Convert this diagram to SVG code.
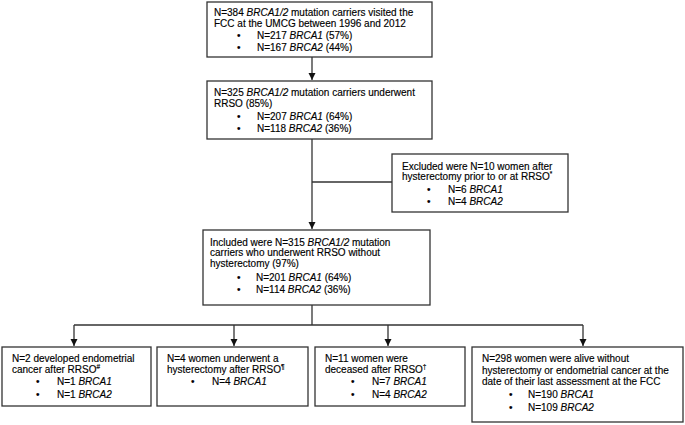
<svg xmlns="http://www.w3.org/2000/svg" width="685" height="425" viewBox="0 0 685 425">
<defs>
<style>
.box{fill:#fff;stroke:#333;stroke-width:1.3}
.t{font-family:"Liberation Sans",Arial,sans-serif;font-size:10px;fill:#000;stroke:#000;stroke-width:0.15}
.i{font-style:italic}
.sup{font-size:6.5px}
.ln{fill:none;stroke:#333;stroke-width:1.3}
</style>
<marker id="ah" markerUnits="userSpaceOnUse" markerWidth="8" markerHeight="9" refX="7" refY="3.5" orient="auto">
<path d="M0,0 L7,3.5 L0,7 Z" fill="#111"/>
</marker>
</defs>
<rect width="685" height="425" fill="#fff"/>

<g id="connectors">
<line class="ln" x1="312" y1="57" x2="312" y2="80" marker-end="url(#ah)"/>
<line class="ln" x1="312" y1="139" x2="312" y2="229" marker-end="url(#ah)"/>
<line class="ln" x1="312" y1="182" x2="392" y2="182"/>
<line class="ln" x1="312" y1="305" x2="312" y2="325"/>
<line class="ln" x1="74" y1="325" x2="583" y2="325"/>
<line class="ln" x1="74" y1="325" x2="74" y2="346" marker-end="url(#ah)"/>
<line class="ln" x1="234" y1="325" x2="234" y2="346" marker-end="url(#ah)"/>
<line class="ln" x1="388" y1="325" x2="388" y2="346" marker-end="url(#ah)"/>
<line class="ln" x1="583" y1="325" x2="583" y2="346" marker-end="url(#ah)"/>
</g>

<g id="n1">
<rect class="box" x="207" y="2" width="225" height="55"/>
<text class="t" x="214" y="15.5">N=384 <tspan class="i">BRCA1/2</tspan> mutation carriers visited the</text>
<text class="t" x="214" y="26.5">FCC at the UMCG between 1996 and 2012</text>
<text class="t" x="237" y="38.5">•</text><text class="t" x="257" y="38.5">N=217 <tspan class="i">BRCA1</tspan> (57%)</text>
<text class="t" x="237" y="50.5">•</text><text class="t" x="257" y="50.5">N=167 <tspan class="i">BRCA2</tspan> (44%)</text>
</g>

<g id="n2">
<rect class="box" x="207" y="81" width="225" height="58"/>
<text class="t" x="214" y="95.5">N=325 <tspan class="i">BRCA1/2</tspan> mutation carriers underwent</text>
<text class="t" x="214" y="106.5">RRSO (85%)</text>
<text class="t" x="237" y="120">•</text><text class="t" x="257" y="120">N=207 <tspan class="i">BRCA1</tspan> (64%)</text>
<text class="t" x="237" y="132">•</text><text class="t" x="257" y="132">N=118 <tspan class="i">BRCA2</tspan> (36%)</text>
</g>

<g id="n3">
<rect class="box" x="392" y="154" width="176" height="58"/>
<text class="t" x="402" y="169.5">Excluded were N=10 women after</text>
<text class="t" x="402" y="180">hysterectomy prior to or at RRSO<tspan class="sup" dy="-4">*</tspan></text>
<text class="t" x="427" y="192.5">•</text><text class="t" x="448" y="192.5">N=6 <tspan class="i">BRCA1</tspan></text>
<text class="t" x="427" y="204.5">•</text><text class="t" x="448" y="204.5">N=4 <tspan class="i">BRCA2</tspan></text>
</g>

<g id="n4">
<rect class="box" x="203" y="230" width="227" height="75"/>
<text class="t" x="210" y="245.5">Included were N=315 <tspan class="i">BRCA1/2</tspan> mutation</text>
<text class="t" x="210" y="256">carriers who underwent RRSO without</text>
<text class="t" x="210" y="266.5">hysterectomy (97%)</text>
<text class="t" x="237" y="280.5">•</text><text class="t" x="256" y="280.5">N=201 <tspan class="i">BRCA1</tspan> (64%)</text>
<text class="t" x="237" y="292.5">•</text><text class="t" x="256" y="292.5">N=114 <tspan class="i">BRCA2</tspan> (36%)</text>
</g>

<g id="n5">
<rect class="box" x="2" y="347" width="149" height="59"/>
<text class="t" x="12" y="361.5">N=2 developed endometrial</text>
<text class="t" x="12" y="372.5">cancer after RRSO<tspan class="sup" dy="-4">#</tspan></text>
<text class="t" x="36" y="384.5">•</text><text class="t" x="57" y="384.5">N=1 <tspan class="i">BRCA1</tspan></text>
<text class="t" x="36" y="397.5">•</text><text class="t" x="57" y="397.5">N=1 <tspan class="i">BRCA2</tspan></text>
</g>

<g id="n6">
<rect class="box" x="157" y="347" width="151" height="59"/>
<text class="t" x="167" y="361.5">N=4 women underwent a</text>
<text class="t" x="167" y="372.5">hysterectomy after RRSO<tspan class="sup" dy="-4">¶</tspan></text>
<text class="t" x="191" y="384.5">•</text><text class="t" x="212" y="384.5">N=4 <tspan class="i">BRCA1</tspan></text>
</g>

<g id="n7">
<rect class="box" x="315" y="347" width="150" height="59"/>
<text class="t" x="325" y="361.5">N=11 women were</text>
<text class="t" x="325" y="372.5">deceased after RRSO<tspan class="sup" dy="-4">†</tspan></text>
<text class="t" x="351" y="384.5">•</text><text class="t" x="372" y="384.5">N=7 <tspan class="i">BRCA1</tspan></text>
<text class="t" x="351" y="397.5">•</text><text class="t" x="372" y="397.5">N=4 <tspan class="i">BRCA2</tspan></text>
</g>

<g id="n8">
<rect class="box" x="472" y="347" width="211" height="75"/>
<text class="t" x="482" y="361.5">N=298 women were alive without</text>
<text class="t" x="482" y="373.5">hysterectomy or endometrial cancer at the</text>
<text class="t" x="482" y="384.5">date of their last assessment at the FCC</text>
<text class="t" x="509" y="397.5">•</text><text class="t" x="528" y="397.5">N=190 <tspan class="i">BRCA1</tspan></text>
<text class="t" x="509" y="410.5">•</text><text class="t" x="528" y="410.5">N=109 <tspan class="i">BRCA2</tspan></text>
</g>
</svg>
